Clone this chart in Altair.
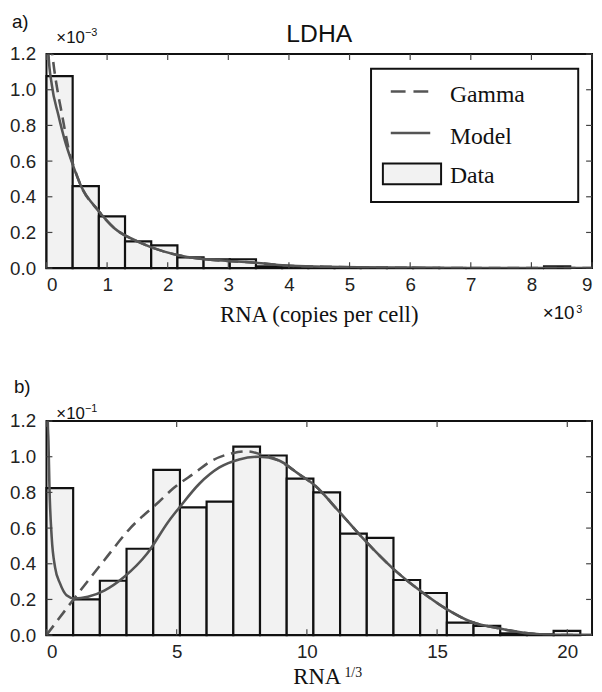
import altair as alt
import pandas as pd

# ---------------- Panel a: RNA (copies per cell, x10^3), density x10^-3 ----------------
a_edges = [0.0, 0.432, 0.864, 1.296, 1.728, 2.16, 2.592, 3.024, 3.456, 3.888, 4.32,
           4.752, 5.184, 5.616, 6.048, 6.48, 6.912, 7.344, 7.776, 8.208, 8.64]
a_density = [1.076, 0.46, 0.29, 0.15, 0.128, 0.06, 0.05, 0.05, 0.01, 0.008,
             0.006, 0.004, 0.003, 0.002, 0.002, 0.001, 0.0, 0.0, 0.0, 0.01]
a_model_x = [0.02, 0.033, 0.087, 0.195, 0.304, 0.413, 0.576, 0.847, 1.12, 1.5, 1.93,
             2.26, 2.57, 3.0, 3.45, 3.94, 4.59, 5.41, 6.5, 9.0]
a_model_y = [1.3, 1.2, 1.03, 0.86, 0.715, 0.60, 0.456, 0.326, 0.224, 0.15, 0.094,
             0.067, 0.052, 0.04, 0.03, 0.015, 0.008, 0.003, 0.001, 0.0]
a_gamma_x = [0.08, 0.09, 0.114, 0.195, 0.24, 0.30, 0.385, 0.45, 0.576, 0.847, 1.12, 1.5,
             1.93, 2.26, 2.57, 3.0, 3.45, 3.94, 4.59, 5.41, 6.5, 9.0]
a_gamma_y = [1.26, 1.22, 1.15, 0.97, 0.89, 0.78, 0.64, 0.57, 0.456, 0.326, 0.224, 0.15,
             0.094, 0.067, 0.052, 0.04, 0.03, 0.015, 0.008, 0.003, 0.001, 0.0]
a_xticks = [0, 1, 2, 3, 4, 5, 6, 7, 8, 9]
a_yticks = [0.0, 0.2, 0.4, 0.6, 0.8, 1.0, 1.2]

# ---------------- Panel b: RNA^(1/3), density x10^-1 ----------------
b_edges = [0.0, 1.025, 2.05, 3.075, 4.1, 5.125, 6.15, 7.175, 8.2, 9.225, 10.25,
           11.275, 12.3, 13.325, 14.35, 15.375, 16.4, 17.425, 18.45, 19.475, 20.5]
b_density = [0.824, 0.2, 0.305, 0.484, 0.926, 0.716, 0.748, 1.057, 1.007, 0.877,
             0.80, 0.569, 0.545, 0.309, 0.236, 0.07, 0.052, 0.01, 0.005, 0.024]
b_model_x = [0.04, 0.05, 0.076, 0.114, 0.2, 0.33, 0.52, 0.77, 1.09, 1.59, 2.22, 2.98,
             3.86, 4.7, 5.13, 5.88, 6.64, 7.4, 8.16, 8.91, 9.67, 10.3, 11.19, 12.2,
             13.33, 14.34, 15.35, 16.3, 17.37, 18.5, 19.4, 20.95]
b_model_y = [1.3, 1.2, 1.09, 0.83, 0.55, 0.38, 0.29, 0.224, 0.205, 0.215, 0.25, 0.326,
             0.456, 0.64, 0.72, 0.85, 0.94, 0.985, 1.0, 0.98, 0.905, 0.84, 0.70, 0.535,
             0.37, 0.25, 0.147, 0.075, 0.038, 0.01, 0.002, 0.0]
b_gamma_x = [0.0, 1.09, 2.22, 3.22, 4.3, 4.85, 5.75, 6.26, 7.15, 7.7, 8.3, 8.91, 9.67,
             10.3, 11.19, 12.2, 13.33, 14.34, 15.35, 16.3, 17.37, 18.5, 19.4, 20.95]
b_gamma_y = [0.0, 0.21, 0.42, 0.60, 0.745, 0.82, 0.915, 0.97, 1.02, 1.03, 1.01, 0.98,
             0.905, 0.84, 0.70, 0.535, 0.37, 0.25, 0.147, 0.075, 0.038, 0.01, 0.002, 0.0]
b_xticks = [0, 5, 10, 15, 20]
b_yticks = [0.0, 0.2, 0.4, 0.6, 0.8, 1.0, 1.2]

legend_labels = ["Gamma", "Model", "Data"]

W, H = 553, 217
INK = "#111111"
LINE = "#555555"
BARFILL = "#f2f2f2"
SANS = "Liberation Sans"
SERIF = "Liberation Serif"
DASH = [12, 7]


def text_layer(label, x, y, size, font, align="left", color=INK):
    return alt.Chart(pd.DataFrame({"t": [label]})).mark_text(
        font=font, fontSize=size, align=align, baseline="alphabetic", color=color
    ).encode(x=alt.value(x), y=alt.value(y), text="t:N")


def panel(edges, dens, mx, my, gx, gy, xticks, yticks, xmax):
    xs = alt.Scale(domain=[0, xmax], nice=False, zero=False)
    ys = alt.Scale(domain=[0, 1.2], nice=False)
    xaxis = alt.Axis(values=xticks, format="d", title="", labelPadding=8,
                     labelFont=SANS, labelFontSize=19, labelColor="#222222",
                     ticks=False, domain=False, grid=False)
    yaxis = alt.Axis(values=yticks, format=".1f", title="", labelPadding=11,
                     labelFont=SANS, labelFontSize=19, labelColor="#222222",
                     ticks=False, domain=False, grid=False)

    def X(f):
        return alt.X(f, type="quantitative", scale=xs, axis=xaxis)

    def Y(f):
        return alt.Y(f, type="quantitative", scale=ys, axis=yaxis)

    bars_df = pd.DataFrame({"x0": edges[:-1], "x1": edges[1:], "d": dens,
                            "z": [0.0] * len(dens)})
    bars = alt.Chart(bars_df).mark_rect(
        fill=BARFILL, stroke=INK, strokeWidth=2.2
    ).encode(x=X("x0"), x2="x1", y=Y("d"), y2="z")

    model = alt.Chart(pd.DataFrame({"x": mx, "y": my})).mark_line(
        color=LINE, strokeWidth=2.6, clip=True, interpolate="monotone"
    ).encode(x=X("x"), y=Y("y"))

    gamma = alt.Chart(pd.DataFrame({"x": gx, "y": gy})).mark_line(
        color=LINE, strokeWidth=2.6, clip=True, interpolate="monotone",
        strokeDash=DASH
    ).encode(x=X("x"), y=Y("y"))

    xt = pd.DataFrame({"t": xticks})
    yt = pd.DataFrame({"t": yticks})
    tick_style = dict(color="#444444", strokeWidth=1.2)
    xb = alt.Chart(xt).mark_rule(**tick_style).encode(
        x=X("t"), y=alt.value(H), y2=alt.value(H - 6))
    xtp = alt.Chart(xt).mark_rule(**tick_style).encode(
        x=X("t"), y=alt.value(0), y2=alt.value(6))
    yl = alt.Chart(yt).mark_rule(**tick_style).encode(
        y=Y("t"), x=alt.value(0), x2=alt.value(6))
    yr = alt.Chart(yt).mark_rule(**tick_style).encode(
        y=Y("t"), x=alt.value(W), x2=alt.value(W - 6))
    return [bars, gamma, model, xb, xtp, yl, yr]


# ---------- top panel ----------
top_layers = panel(a_edges, a_density, a_model_x, a_model_y, a_gamma_x, a_gamma_y,
                   a_xticks, a_yticks, 9)

# legend
leg_box = alt.Chart(pd.DataFrame({"k": [0]})).mark_rect(
    fill="white", stroke=INK, strokeWidth=2
).encode(x=alt.value(329), x2=alt.value(539), y=alt.value(15), y2=alt.value(150))
leg_gamma = alt.Chart(pd.DataFrame({"k": [0]})).mark_rule(
    color=LINE, strokeWidth=2.6, strokeDash=[15, 8]
).encode(x=alt.value(349), x2=alt.value(389), y=alt.value(38))
leg_model = alt.Chart(pd.DataFrame({"k": [0]})).mark_rule(
    color=LINE, strokeWidth=2.6
).encode(x=alt.value(349), x2=alt.value(389), y=alt.value(80))
leg_data = alt.Chart(pd.DataFrame({"k": [0]})).mark_rect(
    fill=BARFILL, stroke=INK, strokeWidth=2
).encode(x=alt.value(341), x2=alt.value(400), y=alt.value(111), y2=alt.value(132))

top_texts = [
    text_layer("a)", -35, -26, 19, SANS),
    text_layer("×10", 10, -11, 17, SANS),
    text_layer("−3", 39, -18, 11, SANS),
    text_layer("LDHA", 276.5, -12, 25, SANS, align="center"),
    text_layer("RNA (copies per cell)", 276.5, 272, 23, SERIF, align="center"),
    text_layer("×10", 503, 269, 19, SANS),
    text_layer("3", 537, 262, 11, SANS),
    text_layer(legend_labels[0], 409, 49, 24, SERIF),
    text_layer(legend_labels[1], 409, 90.7, 24, SERIF),
    text_layer(legend_labels[2], 409, 130.7, 24, SERIF),
]

top = alt.layer(*top_layers, leg_box, leg_gamma, leg_model, leg_data, *top_texts).properties(
    width=W, height=H)

# ---------- bottom panel ----------
bot_layers = panel(b_edges, b_density, b_model_x, b_model_y, b_gamma_x, b_gamma_y,
                   b_xticks, b_yticks, 20.95)
bot_texts = [
    text_layer("b)", -33, -28, 19, SANS),
    text_layer("×10", 10, -2, 17, SANS),
    text_layer("−1", 39, -9, 11, SANS),
    text_layer("RNA", 274.5, 267, 23, SERIF, align="center"),
    text_layer("1/3", 302, 259, 14, SERIF),
]
bottom = alt.layer(*bot_layers, *bot_texts).properties(width=W, height=H)

chart = alt.vconcat(top, bottom, spacing=50).properties(
    padding={"left": 0, "right": 0, "top": 0, "bottom": 0},
    background="white"
).configure_view(
    stroke=INK, strokeWidth=2
).configure_axis(
    labelFont=SANS, labelFontSize=19, labelColor="#222222",
    domain=False, grid=False, ticks=False
)

chart.save("out.html", embed_options={"renderer": "svg", "actions": False})
